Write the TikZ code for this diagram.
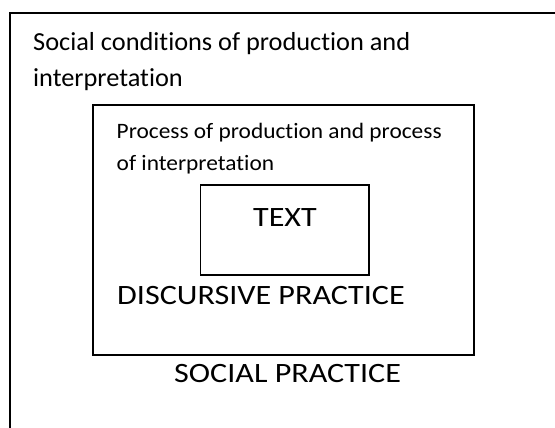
\documentclass[tikz,border=0pt]{standalone}
\usepackage{fontspec}
\setmainfont{Carlito}[Ligatures=NoCommon]
\newfontfamily\capsfont{Carlito}[FakeStretch=1.147, Ligatures=NoCommon]
\newfontfamily\procfont{Carlito}[FakeStretch=1.062, Ligatures=NoCommon]
\newfontfamily\condfont{Carlito}[FakeStretch=1.013, Ligatures=NoCommon]
\begin{document}
\begin{tikzpicture}[x=1pt,y=-1pt,
  frame/.style={draw=black, line width=1.3pt},
  label/.style={inner sep=0pt, anchor=base west, text=black},
  condtext/.style={label, font=\condfont\fontsize{26}{30}\selectfont},
  proctext/.style={label, font=\procfont\fontsize{22}{26}\selectfont},
  captext/.style={inner sep=0pt, text=black, font=\capsfont\fontsize{28}{32}\selectfont}]
\useasboundingbox (0,0) rectangle (555,428);
\clip (0,0) rectangle (555,428);
% social conditions (outer frame, running past the page edges)
\draw[frame] (10,13) rectangle (570,445);
\node[condtext] (soc1) at (33,51) {Social conditions of production and};
\node[condtext] (soc2) at (33,87) {interpretation};
% discursive practice frame
\draw[frame] (93,105) rectangle (474,355);
\node[proctext] (proc1) at (116.5,138.5) {Process of production and process};
\node[proctext] (proc2) at (116.5,170.5) {of interpretation};
% text frame
\draw[frame] (200.5,185) rectangle (369,275);
\node[captext, anchor=base] (text) at (285,226.5) {TEXT};
\node[captext, anchor=base west] (disc) at (117,304) {DISCURSIVE PRACTICE};
\node[captext, anchor=base west] (social) at (174,382) {SOCIAL PRACTICE};
\end{tikzpicture}
\end{document}
